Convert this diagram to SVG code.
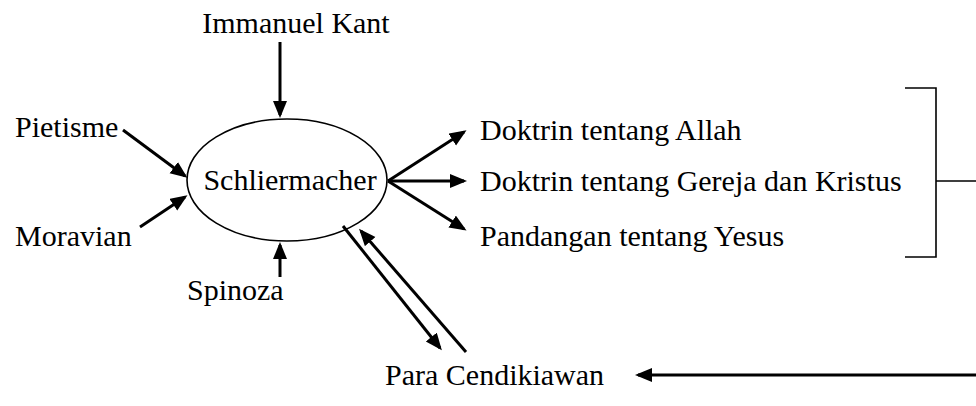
<svg xmlns="http://www.w3.org/2000/svg" width="976" height="406" viewBox="0 0 976 406">
  <style>
    .lbl { font-family: "Liberation Serif", "Times New Roman", serif; font-size: 30px; fill: #000; }
    .arrow { stroke: #000; stroke-width: 3; fill: none; marker-end: url(#head); }
    .thin { stroke: #000; stroke-width: 1.6; fill: none; }
  </style>
  <defs>
    <marker id="head" markerUnits="userSpaceOnUse" markerWidth="18" markerHeight="16" refX="14" refY="7" orient="auto">
      <path d="M0,0 L17,7 L0,14 z" fill="#000"/>
    </marker>
  </defs>
  <rect width="976" height="406" fill="#fff"/>

  <!-- connectors -->
  <g id="connectors">
    <line class="arrow" x1="280" y1="42" x2="280" y2="115"/>
    <line class="arrow" x1="123" y1="130" x2="185" y2="176"/>
    <line class="arrow" x1="140" y1="227" x2="185" y2="197"/>
    <line class="arrow" x1="280" y1="277" x2="280" y2="245"/>
    <line class="arrow" x1="388" y1="181" x2="464" y2="132"/>
    <line class="arrow" x1="388" y1="181" x2="464" y2="181"/>
    <line class="arrow" x1="388" y1="181" x2="464" y2="229"/>
    <line class="arrow" x1="343" y1="226" x2="440" y2="348"/>
    <line class="arrow" x1="466" y1="352" x2="361" y2="231"/>
    <path class="thin" d="M905,88 H936 V257 H905 M936,181 H976"/>
    <line class="arrow" x1="976" y1="375" x2="638" y2="375"/>
  </g>

  <g id="node-schliermacher">
    <ellipse cx="287" cy="180" rx="100" ry="61" class="thin"/>
    <text class="lbl" x="290" y="190" text-anchor="middle">Schliermacher</text>
  </g>
  <g id="node-kant"><text class="lbl" x="296" y="33" text-anchor="middle">Immanuel Kant</text></g>
  <g id="node-pietisme"><text class="lbl" x="15" y="137">Pietisme</text></g>
  <g id="node-moravian"><text class="lbl" x="15" y="246">Moravian</text></g>
  <g id="node-spinoza"><text class="lbl" x="187" y="300">Spinoza</text></g>
  <g id="node-allah"><text class="lbl" x="480" y="140">Doktrin tentang Allah</text></g>
  <g id="node-gereja"><text class="lbl" x="480" y="191">Doktrin tentang Gereja dan Kristus</text></g>
  <g id="node-yesus"><text class="lbl" x="480" y="246">Pandangan tentang Yesus</text></g>
  <g id="node-cendikiawan"><text class="lbl" x="385" y="385">Para Cendikiawan</text></g>
</svg>
